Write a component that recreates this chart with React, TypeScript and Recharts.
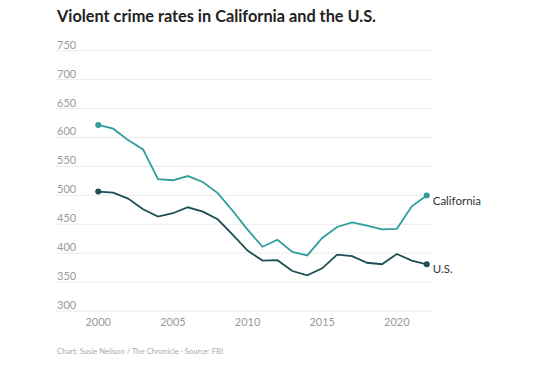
import React from 'react';
import { LineChart, Line, XAxis, YAxis, CartesianGrid } from 'recharts';

const years = [2000, 2001, 2002, 2003, 2004, 2005, 2006, 2007, 2008, 2009, 2010, 2011, 2012, 2013, 2014, 2015, 2016, 2017, 2018, 2019, 2020, 2021, 2022];
const california = [621.6, 615.2, 595.4, 579.3, 527.8, 526.0, 533.3, 523.0, 503.8, 473.3, 440.6, 411.1, 423.1, 402.1, 396.1, 426.3, 445.3, 453.3, 447.4, 441.2, 442.0, 481.0, 499.5];
const us = [506.5, 504.5, 494.4, 475.8, 463.2, 469.0, 479.3, 471.8, 458.6, 431.9, 404.5, 387.1, 387.8, 369.1, 361.6, 373.7, 397.5, 394.9, 383.4, 380.8, 398.5, 387.0, 380.7];
const xTicks = [2000, 2005, 2010, 2015, 2020];
const yTicks = [300, 350, 400, 450, 500, 550, 600, 650, 700, 750];
const seriesNames = ['California', 'U.S.'];

const data = years.map((y, i) => ({ year: y, ca: california[i], us: us[i] }));

const CA_COLOR = '#2f9e9b';
const US_COLOR = '#1c4f54';
const FONT = 'Lato, "Open Sans", sans-serif';

const makeDot = (color: string, label: string) => (props: any) => {
  const { cx, cy, index } = props;
  const last = data.length - 1;
  if (index !== 0 && index !== last) return <g key={`d${index}`} />;
  return (
    <g key={`d${index}`}>
      <circle cx={cx} cy={cy} r={3} fill={color} stroke="none" />
      {index === last && (
        <text x={cx + 6} y={cy + 9} fontSize={11.5} fill="#333" fontFamily={FONT}>{label}</text>
      )}
    </g>
  );
};

const YTick = (props: any) => {
  const { y, payload } = props;
  return (
    <text x={57} y={y - 2} fontSize={11} fill="#9a9a9a" fontFamily={FONT}>{payload.value}</text>
  );
};

const XTick = (props: any) => {
  const { x, payload } = props;
  return (
    <text x={x} y={326} fontSize={11} fill="#9a9a9a" textAnchor="middle" fontFamily={FONT}>{payload.value}</text>
  );
};

export default function App() {
  return (
    <div style={{ position: 'absolute', left: 0, top: 0, width: 540, height: 370, background: '#fff', fontFamily: FONT }}>
      <div style={{ position: 'absolute', left: 57, top: 6, fontSize: 16.3, fontWeight: 700, color: '#222', whiteSpace: 'nowrap' }}>
        Violent crime rates in California and the U.S.
      </div>
      <LineChart width={540} height={370} data={data} margin={{ top: 50.7, right: 107, bottom: 0, left: 55 }}>
        <CartesianGrid vertical={false} stroke="#ebebeb" />
        <XAxis dataKey="year" type="number" domain={[1997.17, 2022.42]} ticks={xTicks} axisLine={false} tickLine={false} height={59} tick={<XTick />} />
        <YAxis type="number" domain={[300, 750]} ticks={yTicks} width={1} axisLine={false} tickLine={false} tick={<YTick />} interval={0} />
        <Line dataKey="ca" name={seriesNames[0]} stroke={CA_COLOR} strokeWidth={1.8} dot={makeDot(CA_COLOR, seriesNames[0])} activeDot={false} isAnimationActive={false} />
        <Line dataKey="us" name={seriesNames[1]} stroke={US_COLOR} strokeWidth={1.8} dot={makeDot(US_COLOR, seriesNames[1])} activeDot={false} isAnimationActive={false} />
      </LineChart>
      <div style={{ position: 'absolute', left: 57, top: 346, fontSize: 7.7, color: '#aaa', whiteSpace: 'nowrap' }}>
        Chart: Susie Neilson / The Chronicle · Source: FBI
      </div>
    </div>
  );
}
